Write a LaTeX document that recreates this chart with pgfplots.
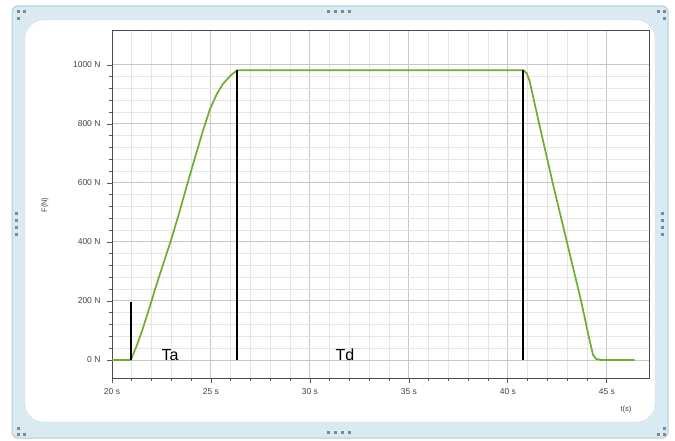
\documentclass[border=0pt]{standalone}
\usepackage{fontspec}
\setmainfont{Liberation Sans}
\usepackage{pgfplots}
\pgfplotsset{compat=1.18}
\definecolor{framebl}{HTML}{D9EAF3}
\definecolor{frameedge}{HTML}{B4CCD9}
\definecolor{curvegreen}{HTML}{6DAE2E}
\definecolor{ticktext}{HTML}{454545}
\definecolor{handle}{HTML}{7A8A96}
\begin{document}
\begin{tikzpicture}[x=1pt,y=1pt]
\useasboundingbox (0,0) rectangle (675,440);
\fill[white] (0,0) rectangle (675,440);
\draw[fill=framebl, draw=frameedge, line width=1pt, rounded corners=6pt] (12,2) rectangle (668,434);
\draw[fill=white, draw=frameedge!70, rounded corners=18pt] (25,18) rectangle (655,420);
% handles
\foreach \hx in {328,335,342,349}{\fill[handle] (\hx-1.5,426.5) rectangle (\hx+1.5,429.5); \fill[handle] (\hx-1.5,6.5) rectangle (\hx+1.5,9.5);}
\foreach \hy in {206,213,220,227}{\fill[handle] (14.5,\hy-1.5) rectangle (17.5,\hy+1.5); \fill[handle] (660.5,\hy-1.5) rectangle (663.5,\hy+1.5);}
\foreach \cx/\cy in {18/428,24/428,18/421,658/428,664/428,664/421,18/12,18/6,24/6,664/12,664/6,658/6}{\fill[handle] (\cx-1.5,\cy-1.5) rectangle (\cx+1.5,\cy+1.5);}
\begin{axis}[
  at={(112pt,62pt)}, anchor=south west,
  scale only axis, width=537pt, height=347pt,
  xmin=20, xmax=47.13, ymin=-61, ymax=1115,
  xtick={20,25,30,35,40,45},
  xticklabels={20 s,25 s,30 s,35 s,40 s,45 s},
  ytick={0,200,400,600,800,1000},
  yticklabels={0 N,200 N,400 N,600 N,800 N,1000 N},
  minor x tick num=4, minor y tick num=4,
  grid=both,
  major grid style={draw=black!22, line width=1pt},
  minor grid style={draw=black!10, line width=0.8pt},
  tick align=outside, tick pos=left,
  major tick length=5pt, minor tick length=3pt,
  every tick/.style={draw=black!65, line width=0.8pt},
  axis line style={draw=black!70, line width=1pt},
  ticklabel style={font=\fontsize{8.5}{10}\selectfont, text=ticktext},
  xticklabel style={yshift=-2pt},
  yticklabel style={xshift=-3pt},
  clip=false,
]
\addplot[curvegreen, line width=1.7pt, line join=round] coordinates {
 (20,0) (20.95,0) (21.2,40) (21.5,95) (21.85,168) (22.2,245) (22.6,328)
 (23.0,410) (23.4,500) (23.8,595) (24.2,688) (24.6,778) (24.95,850) (25.3,902)
 (25.6,935) (26.0,965) (26.33,982) (40.78,982) (40.95,972) (41.1,945)
 (41.6,795) (42.3,590) (43.0,395) (43.7,200) (44.1,75) (44.3,18) (44.45,4)
 (44.7,0) (46.4,0)
};
\addplot[black, line width=1.8pt] coordinates {(20.94,0) (20.94,198)};
\addplot[black, line width=1.8pt] coordinates {(26.33,0) (26.33,982)};
\addplot[black, line width=1.8pt] coordinates {(40.78,0) (40.78,982)};
\node[anchor=base, font=\fontsize{16}{18}\selectfont] at (axis cs:22.93,-3) {Ta};
\node[anchor=base, font=\fontsize{16}{18}\selectfont] at (axis cs:31.77,-3) {Td};
\end{axis}
\node[font=\fontsize{7.5}{9}\selectfont, text=ticktext] at (626,30) {t(s)};
\node[font=\fontsize{7.5}{9}\selectfont, text=ticktext, rotate=90] at (45,235) {F(N)};
\end{tikzpicture}
\end{document}
